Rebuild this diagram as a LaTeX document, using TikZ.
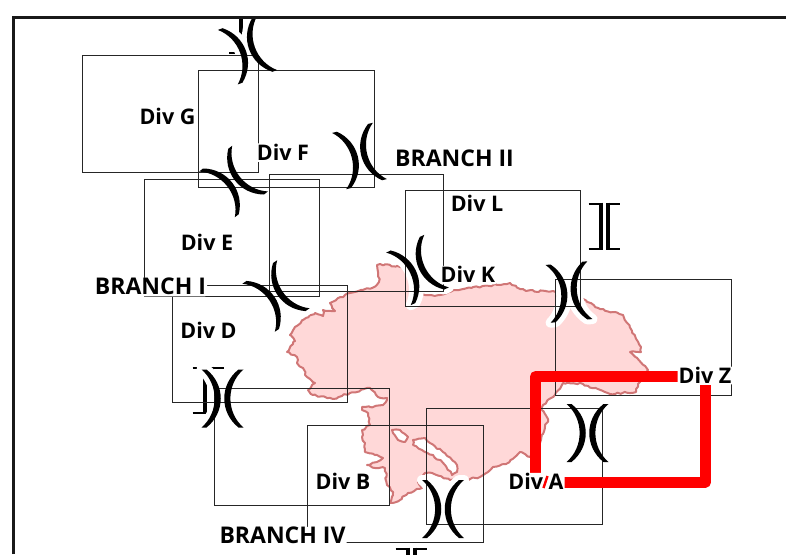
\documentclass[tikz,border=0pt]{standalone}
\usepackage{fontspec}
\setmainfont{Open Sans}
\usetikzlibrary{decorations.pathmorphing}
\definecolor{mapfill}{RGB}{255,216,216}
\definecolor{mapline}{RGB}{208,118,118}
\tikzset{
  divbox/.style={draw=black!85, line width=1.2pt},
  divlabel/.style={inner xsep=1pt, inner ysep=1.5pt, fill=white, rounded corners=2pt, text height=15.5pt, text depth=0pt, font=\fontsize{21.5}{22}\selectfont\bfseries},
  branchlabel/.style={divlabel, font=\fontsize{23}{24}\selectfont\bfseries},
  inkfill/.style={fill=black},
  halostroke/.style={draw=white, line width=10pt, line join=round},
  pics/parenpair/.style={code={
    \path[pic actions] (-16,-29) .. controls (3,-14) and (3,14) .. (-16,29) -- (-21,29) .. controls (-3.5,14) and (-3.5,-14) .. (-21,-29) -- cycle;
    \path[pic actions] (16,-29) .. controls (-3,-14) and (-3,14) .. (16,29) -- (21,29) .. controls (3.5,14) and (3.5,-14) .. (21,-29) -- cycle;
  }},
  pics/brackets/.style={code={
    \draw[line width=2pt] (-15.5,-22.5)--(-3.5,-22.5) (-15.5,22.5)--(-3.5,22.5) (15.5,-22.5)--(3.5,-22.5) (15.5,22.5)--(3.5,22.5);
    \draw[line width=4pt] (-3.5,-23.5)--(-3.5,23.5) (3.5,-23.5)--(3.5,23.5);
  }}
}
\newcommand{\pairlist}{587.5/433/0, 443/509/0, 222.5/398.5/0, 569/292/5, 417.5/270/25, 276/296/34, 233.5/181.5/38, 359.5/156/14, 247.5/50/20}
\begin{document}
\begin{tikzpicture}[x=1pt,y=-1pt]
\useasboundingbox (0,0) rectangle (786,554);
\begin{scope}
\clip (13.5,17) rectangle (786,554);

% the map
\draw [mapline, fill=mapfill, line width=2pt, even odd rule, line join=round,
  decorate, decoration={random steps, segment length=3pt, amplitude=1pt}]
  (377,265)--(380,264)--(400,267)--(405,270)--(412,284)--(425,295)--(440,295)--(456,290)--(510,283)--(526,291)--(553,291)--(583,299)--(600,309)--(623,315)--(641,347)--(641,352)--(630,352)--(648,370)--(638,384)--(636,392)--(610,394)--(583,384)--(563,383)--(555,395)--(543,405)--(541,409)--(548,419)--(541,440)--(530,457)--(520,452)--(506,464)--(493,467)--(480,477)--(465,480)--(450,480)--(432,473)--(425,473)--(418,482)--(422,488)--(408,493)--(400,500)--(390,503)--(393,492)--(387,485)--(385,468)--(375,468)--(367,465)--(377,462)--(383,458)--(375,455)--(365,452)--(365,443)--(362,437)--(362,430)--(370,425)--(368,413)--(362,410)--(362,407)--(370,407)--(383,405)--(387,398)--(378,397)--(370,388)--(350,393)--(333,399)--(313,395)--(308,390)--(315,383)--(307,377)--(303,368)--(297,363)--(297,357)--(287,352)--(295,341)--(290,335)--(295,327)--(303,320)--(315,313)--(323,316)--(323,310)--(335,311)--(330,303)--(345,295)--(355,292)--(372,288)--(379,282)--(378,272)--cycle
  (392,430)--(400,430)--(408,437)--(405,442)--(398,440)--(393,433)--cycle
  (413,440)--(425,438)--(430,443)--(443,452)--(457,465)--(457,472)--(452,475)--(445,465)--(433,455)--(422,450)--(413,445)--cycle;

% brackets
\pic at (604,226) {brackets};
\pic at (208,390) {brackets};
\pic at (411,571) {brackets};
\pic at (244.5,30) {brackets};

\foreach \px/\py/\rot in \pairlist
  \pic [rotate=\rot, halostroke] at (\px,\py) {parenpair};

\foreach \xa/\ya/\xb/\yb in {82.5/55.5/258.5/172.5, 198.5/70.5/374.5/187.5, 144.5/179.5/319.5/296.5, 269.5/174.5/443.5/291.5, 405.5/190.5/580.5/306.5, 172.5/285.5/347.5/402.5, 214.5/388.5/389.5/505.5, 307.5/425.5/483.5/542.5, 426.5/408.5/602.5/524.5, 555.5/279.5/731.5/395.5}
  \draw [divbox] (\xa,\ya) rectangle (\xb,\yb);

\draw [red, line width=11pt, line join=round] (535.5,376.5) rectangle (705.5,482);

\node [divlabel] (divg) at (167.5,116.5) {Div G};
\node [divlabel] (divf) at (283,152.5) {Div F};
\node [divlabel] (dive) at (207,242.5) {Div E};
\node [divlabel] (divd) at (208.5,331) {Div D};
\node [divlabel] (divl) at (477,203.5) {Div L};
\node [divlabel] (divk) at (468,275) {Div K};
\node [divlabel] (divz) at (705,375.5) {Div Z};
\node [divlabel] (diva) at (536,482) {Div A};
\node [divlabel] (divb) at (343,482) {Div B};
\node [branchlabel] (branchi) at (150.5,287) {BRANCH I};
\node [branchlabel] (branchii) at (454.5,158.5) {BRANCH II};
\node [branchlabel] (branchiv) at (282.5,536) {BRANCH IV};

% red showing between the letters of Div A
\draw [red, line width=2.5pt] (547.5,476)--(543.5,488);

\foreach \px/\py/\rot in \pairlist
  \pic [rotate=\rot, inkfill] at (\px,\py) {parenpair};
\end{scope}

\draw [black!90, line width=3pt] (13.5,554)--(13.5,17)--(786,17);
\end{tikzpicture}
\end{document}
